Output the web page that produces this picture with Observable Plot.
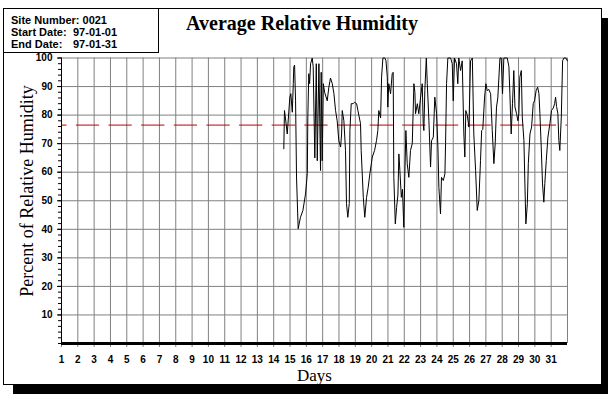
<!DOCTYPE html>
<html>
<head>
<meta charset="utf-8">
<script src="https://cdn.jsdelivr.net/npm/d3@7"></script>
<script src="https://cdn.jsdelivr.net/npm/@observablehq/plot@0.6"></script>
<style>
  html, body { margin: 0; padding: 0; background: #fff; }
  #wrap { position: relative; width: 608px; height: 394px; overflow: hidden; background: #fff; }
  .abs { position: absolute; }
  #panel { left: 3px; top: 8px; width: 597px; height: 375px; border: 1px solid #000; background: #fff; }
  #shadowR { left: 602px; top: 18px; width: 6px; height: 376px; background: #000; }
  #shadowB { left: 13px; top: 385px; width: 595px; height: 9px; background: #000; }
  #info { left: 3px; top: 8px; width: 154px; height: 43px; border: 1px solid #000; background: #fff;
          font-family: "Liberation Sans", Arial, sans-serif; font-weight: bold; font-size: 11px; }
  #info div { position: absolute; left: 7px; white-space: pre; }
  #info span { position: absolute; left: 62px; }
  #title { left: 0; width: 604px; top: 12px; text-align: center; font-family: "Liberation Serif", "Times New Roman", serif;
           font-weight: bold; font-size: 20px; }
  #ylab { left: 27px; top: 191px; transform: translate(-50%, -50%) rotate(-90deg); white-space: nowrap;
          font-family: "Liberation Serif", "Times New Roman", serif; font-size: 18px; }
  #xlab { left: 297px; top: 366px; font-family: "Liberation Serif", "Times New Roman", serif; font-size: 17px; }
  #chart { left: 0; top: 0; }
</style>
</head>
<body>
<div id="wrap">
  <div class="abs" id="shadowR"></div>
  <div class="abs" id="shadowB"></div>
  <div class="abs" id="panel"></div>
  <div class="abs" id="chart"></div>
  <div class="abs" id="info">
    <div style="top:4.5px">Site Number: 0021</div>
    <div style="top:17px">Start Date:<span>97-01-01</span></div>
    <div style="top:29px">End Date:<span>97-01-31</span></div>
  </div>
  <div class="abs" id="title">Average Relative Humidity</div>
  <div class="abs" id="ylab">Percent of Relative Humidity</div>
  <div class="abs" id="xlab">Days</div>
</div>
<script>
// Day (fractional) and relative humidity (%)
const days = [14.62,14.66,14.72,14.83,14.99,15.05,15.14,15.20,15.23,15.28,15.34,15.40,15.50,15.64,15.79,15.95,16.06,16.09,16.15,16.20,
  16.26,16.36,16.42,16.52,16.61,16.67,16.77,16.87,16.91,16.97,17.04,17.12,17.28,17.38,17.48,17.59,17.69,17.79,17.89,17.99,
  18.10,18.16,18.20,18.30,18.40,18.46,18.54,18.63,18.67,18.75,18.87,18.95,19.08,19.16,19.32,19.36,19.49,19.58,19.69,19.79,
  19.89,20.04,20.18,20.30,20.38,20.44,20.55,20.61,20.69,20.81,20.88,20.96,20.99,21.05,21.16,21.26,21.32,21.36,21.45,21.53,
  21.61,21.67,21.73,21.82,21.89,21.97,22.03,22.10,22.18,22.28,22.38,22.49,22.59,22.65,22.69,22.80,22.89,23.00,23.10,23.16,
  23.20,23.26,23.35,23.41,23.51,23.61,23.67,23.78,23.87,23.98,24.06,24.12,24.22,24.28,24.39,24.49,24.53,24.59,24.67,24.84,
  24.94,25.00,25.08,25.20,25.28,25.34,25.45,25.55,25.65,25.71,25.77,25.86,25.96,26.06,26.17,26.26,26.37,26.47,26.57,26.67,
  26.74,26.81,26.92,27.00,27.08,27.18,27.29,27.39,27.49,27.57,27.65,27.73,27.86,27.94,28.02,28.10,28.31,28.41,28.47,28.55,
  28.63,28.71,28.78,28.88,28.96,29.02,29.08,29.17,29.23,29.33,29.39,29.45,29.54,29.60,29.70,29.80,29.90,29.98,30.08,30.17,
  30.25,30.31,30.39,30.47,30.55,30.61,30.70,30.80,30.92,31.02,31.13,31.21,31.27,31.33,31.41,31.47,31.53,31.62,31.70,31.78,
  31.90,31.99];
const humidity = [68.2,81.6,79,73.4,86.3,87.5,81,91,96.8,97.5,85,58,40.2,44.2,46.6,52.4,59.5,79,94.5,91,
  98,100,97,65,98,64,98,60.6,95,64,91,88,85,89.8,93,91,87.5,81.6,78,71,
  68.8,73.4,81.6,78,67.6,49,44.2,49,74.6,84,84,84.5,84,81.6,77,67.6,51.2,44.2,51.2,54.7,
  59.4,65.3,67.6,71.1,74.6,81.6,79,93.3,100,100,99,93.3,82.8,91,87.5,94.5,95,58.2,41.9,47.7,
  52,66.4,60.6,51.2,54,40.7,58.2,74.6,63,58.2,67.6,70,91,88,80.5,84,80.5,86.3,91,77,
  74.6,88.6,100,91,78,61.8,71,72.3,86.3,80.5,68.8,54.7,45.4,58.2,57.1,59.4,70,91,100,100,
  98,85,100,98,91,100,95.6,99,73.4,65.3,81.6,80,75.8,99,100,73.4,60.6,46.6,50.1,64,
  74.6,75,86.3,91,88.6,89,87.5,74.6,63,70,82.8,86,100,100,87.5,100,100,97,87.5,73.4,
  84,95.6,82.8,80.5,78,80.5,93.3,95.6,79.3,71.1,55.9,41.9,49,63,73.4,75.8,84,85,88.6,89.8,
  87.5,80.5,68.8,55.9,49.5,56,64,72.3,77,81.6,82.5,84,86.3,83,80.5,71.1,67.6,79.3,99,100,
  100,99];
const average = [76.5];
const dayTicks = d3.range(1, 32);
const dayGrid = d3.range(1, 33);
const pctTicks = d3.range(10, 101, 10);
const pctMinor = d3.range(0, 101, 2);

const data = days.map((d, i) => ({day: d, rh: humidity[i]}));

const chart = Plot.plot({
  width: 608,
  height: 394,
  marginLeft: 61,
  marginRight: 41,
  marginTop: 57.5,
  marginBottom: 51,
  style: {fontFamily: "'Liberation Sans', Arial, sans-serif", fontSize: "10px", fontWeight: "bold", background: "transparent", overflow: "visible"},
  x: {domain: [1, 32], label: null},
  y: {domain: [0, 100], label: null},
  marks: [
    Plot.ruleY(pctTicks, {stroke: "#808080", strokeOpacity: 1, strokeWidth: 1}),
    Plot.ruleX(dayGrid, {y1: 0, y2: 100, stroke: "#808080", strokeOpacity: 1, strokeWidth: 1}),
    Plot.ruleY(average, {stroke: "#c00000", strokeWidth: 1, strokeDasharray: "23.3 9.34", strokeDashoffset: 17.8}),
    Plot.line(data, {x: "day", y: "rh", stroke: "#000", strokeWidth: 1}),
    Plot.axisY(pctMinor, {tickSize: 3, tickFormat: () => "", label: null, stroke: "#000", strokeOpacity: 1}),
    Plot.axisY(pctTicks, {tickSize: 4, tickPadding: 5, label: null, stroke: "#000", strokeOpacity: 1, fill: "#000", fontWeight: "bold"}),
    Plot.axisX(dayTicks, {tickSize: 4, tickPadding: 8, label: null, stroke: "#808080", strokeOpacity: 1, fill: "#000", fontWeight: "bold"}),
    Plot.ruleX([1], {y1: 0, y2: 100, stroke: "#000", strokeWidth: 1}),
    Plot.ruleY([0], {stroke: "#000", strokeWidth: 3})
  ]
});
document.getElementById("chart").appendChild(chart);
</script>
</body>
</html>
